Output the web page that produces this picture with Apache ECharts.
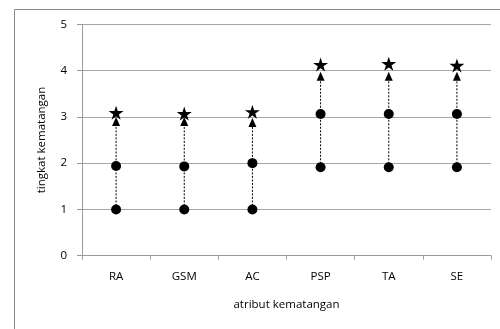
<!DOCTYPE html>
<html><head><meta charset="utf-8">
<script src="https://cdn.jsdelivr.net/npm/echarts@6/dist/echarts.min.js"></script>
<style>html,body{margin:0;padding:0;background:#fff}#c{width:500px;height:329px}</style>
</head><body><div id="c"></div>
<script>
const categories = ['RA','GSM','AC','PSP','TA','SE'];
const lowCircle = [1, 1, 1, 1.91, 1.91, 1.91];
const midCircle = [1.94, 1.93, 2.0, 3.06, 3.06, 3.06];
const triangle = [2.9, 2.9, 2.88, 3.88, 3.88, 3.88];
const star = [3.09, 3.07, 3.11, 4.13, 4.15, 4.11];
const yTicks = [0,1,2,3,4,5];

const STAR = 'path://M50,0 L61,35 L98,35 L68,57 L79,91 L50,70 L21,91 L32,57 L2,35 L39,35 Z';
const font = 'Open Sans';
const fs = 11.5;
const chart = echarts.init(document.getElementById('c'), null, {renderer:'canvas'});
const segs = categories.map((c,i)=>[i, lowCircle[i], triangle[i]]);
chart.setOption({
  animation:false,
  graphic:[{type:'rect', shape:{x:14.5,y:9.5,width:520,height:400}, style:{fill:'none', stroke:'#8c8c8c', lineWidth:1}, z:-1}],
  grid:{left:82, right:9, top:24.3, bottom:73.3, containLabel:false},
  xAxis:{type:'category', data:categories, boundaryGap:true,
    axisLine:{lineStyle:{color:'#9a9a9a'}},
    axisTick:{show:true, length:4, lineStyle:{color:'#9a9a9a'}},
    axisLabel:{color:'#000', fontFamily:font, fontSize:fs, margin:15},
    name:'atribut kematangan', nameLocation:'middle', nameGap:43,
    nameTextStyle:{color:'#000', fontFamily:font, fontSize:fs}},
  yAxis:{type:'value', min:yTicks[0], max:yTicks[yTicks.length-1], interval:1,
    axisLine:{show:true, lineStyle:{color:'#9a9a9a'}},
    axisTick:{show:true, length:5, lineStyle:{color:'#9a9a9a'}},
    splitLine:{lineStyle:{color:'#a6a6a6'}},
    axisLabel:{color:'#000', fontFamily:font, fontSize:fs, margin:15},
    name:'tingkat kematangan', nameLocation:'middle', nameGap:34, nameRotate:90,
    nameTextStyle:{color:'#000', fontFamily:font, fontSize:fs}},
  series:[
    {type:'custom', data:segs, z:1,
     renderItem:(params, api)=>{
       const p1 = api.coord([api.value(0), api.value(1)]);
       const p2 = api.coord([api.value(0), api.value(2)]);
       return {type:'line', shape:{x1:p1[0],y1:p1[1],x2:p2[0],y2:p2[1]},
         style:{stroke:'#000', lineWidth:1, lineDash:[2,1.5]}};
     }},
    {type:'scatter', data:lowCircle, symbol:'circle', symbolSize:10, itemStyle:{color:'#000', opacity:1}, z:3},
    {type:'scatter', data:midCircle, symbol:'circle', symbolSize:10, itemStyle:{color:'#000', opacity:1}, z:3},
    {type:'scatter', data:triangle, symbol:'triangle', symbolSize:[8,9], itemStyle:{color:'#000', opacity:1}, z:3},
    {type:'scatter', data:star, symbol:STAR, symbolSize:[15,14], itemStyle:{color:'#000', opacity:1}, z:3}
  ]
});
</script></body></html>
